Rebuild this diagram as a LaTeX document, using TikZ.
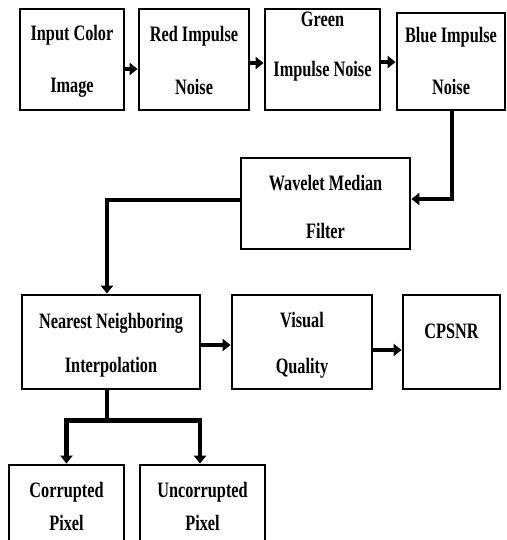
\documentclass[tikz,border=0pt]{standalone}
\usepackage{fontspec}
\setmainfont{Liberation Serif}[FakeStretch=0.74]
\usetikzlibrary{arrows.meta}
\begin{document}
\begin{tikzpicture}[x=1pt,y=-1pt,
  box/.style={draw=black,line width=2.8pt,fill=white,inner sep=0pt},
  lbl/.style={align=center,anchor=base,inner sep=0pt},
  conn/.style={line width=4.5pt},
  arr/.style={line width=4.5pt,-{Triangle[length=8pt,width=12pt]}}]
\useasboundingbox (0,0) rectangle (506,540);
\fill[white] (0,0) rectangle (506,540);
% boxes
\node[box,minimum width=104pt,minimum height=101pt] (b1) at (72,59.5) {};
\node[box,minimum width=110pt,minimum height=101pt] (b2) at (194,59.5) {};
\node[box,minimum width=115pt,minimum height=101pt] (b3) at (322.5,59.5) {};
\node[box,minimum width=108pt,minimum height=97pt] (b4) at (451,61.5) {};
\node[box,minimum width=169pt,minimum height=91pt] (wm) at (325.5,203.5) {};
\node[box,minimum width=178pt,minimum height=94pt] (nn) at (111,342) {};
\node[box,minimum width=140pt,minimum height=94pt] (vq) at (302,342) {};
\node[box,minimum width=97pt,minimum height=94pt] (cp) at (451.5,342) {};
\node[box,minimum width=115pt,minimum height=95pt] (co) at (66.5,512.5) {};
\node[box,minimum width=125pt,minimum height=95pt] (uc) at (202.5,512.5) {};
% labels (anchored at the baseline of the last line)
\node[lbl,font=\fontsize{22}{52}\selectfont\bfseries] (t1) at (72,93) {Input Color\\Image};
\node[lbl,font=\fontsize{22}{53}\selectfont\bfseries] (t2) at (194,95) {Red Impulse\\Noise};
\node[lbl,font=\fontsize{22}{50}\selectfont\bfseries] (t3) at (322.5,77) {Green\\Impulse Noise};
\node[lbl,font=\fontsize{22}{52}\selectfont\bfseries] (t4) at (451,95) {Blue Impulse\\Noise};
\node[lbl,font=\fontsize{22}{48}\selectfont\bfseries] (t5) at (325.5,238) {Wavelet Median\\Filter};
\node[lbl,font=\fontsize{22}{44}\selectfont\bfseries] (t6) at (111,372) {Nearest Neighboring\\Interpolation};
\node[lbl,font=\fontsize{22}{46}\selectfont\bfseries] (t7) at (302,373) {Visual\\Quality};
\node[lbl,font=\fontsize{22}{44}\selectfont\bfseries] (t8) at (451.5,338) {CPSNR};
\node[lbl,font=\fontsize{22}{33}\selectfont\bfseries] (t9) at (66.5,530) {Corrupted\\Pixel};
\node[lbl,font=\fontsize{22}{33}\selectfont\bfseries] (t10) at (202.5,530) {Uncorrupted\\Pixel};
% connectors
\draw[arr] ([yshift=-9.5pt]b1.east) -- ([yshift=-9.5pt]b2.west);
\draw[arr] ([yshift=-3.5pt]b2.east) -- ([yshift=-3.5pt]b3.west);
\draw[arr] ([yshift=-2.5pt]b3.east) -- ([yshift=-0.5pt]b4.west);
\draw[arr] ([xshift=1pt]b4.south) |- ([yshift=4.5pt]wm.east);
\draw[arr] ([yshift=3.5pt]wm.west) -| ([xshift=-4pt]nn.north);
\draw[arr] ([yshift=-3pt]nn.east) -- ([yshift=-3pt]vq.west);
\draw[arr] ([yshift=-8pt]vq.east) -- ([yshift=-8pt]cp.west);
\coordinate (split) at ([shift={(-4,30)}]nn.south);
\draw[conn] ([xshift=-4pt]nn.south) -- (split);
\draw[arr] (split) -| (co.north);
\draw[arr] (split) -| ([xshift=-2.5pt]uc.north);
\end{tikzpicture}
\end{document}
